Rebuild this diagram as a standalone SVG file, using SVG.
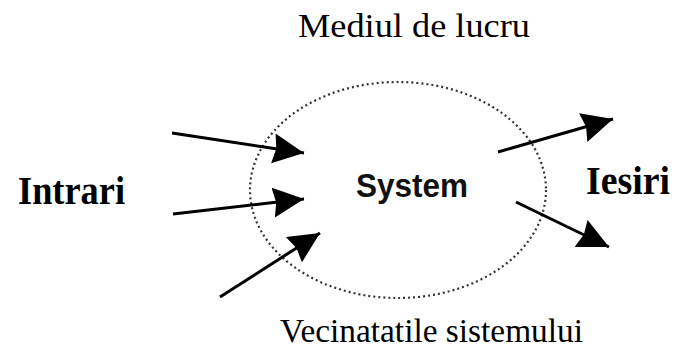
<svg xmlns="http://www.w3.org/2000/svg" width="685" height="348" viewBox="0 0 685 348">
  <style>
    .serif { font-family: "Liberation Serif", "Times New Roman", serif; fill: #000; }
    .sans { font-family: "Liberation Sans", Arial, sans-serif; fill: #111; }
    .edge { stroke: #000; stroke-width: 3; fill: none; marker-end: url(#head); }
  </style>
  <defs>
    <marker id="head" markerUnits="userSpaceOnUse" markerWidth="34" markerHeight="32" refX="31" refY="15" orient="auto">
      <path d="M0,0 L31,15 L0,30 L3,15 Z" fill="#000"/>
    </marker>
  </defs>
  <rect width="685" height="348" fill="#fff"/>

  <!-- environment label -->
  <text class="serif" x="298" y="37" font-size="33" textLength="232" lengthAdjust="spacingAndGlyphs">Mediul de lucru</text>

  <!-- system boundary -->
  <g id="system">
    <ellipse cx="398" cy="190" rx="148" ry="108" fill="none" stroke="#333" stroke-width="2.2" stroke-dasharray="2 3"/>
    <text class="sans" x="356" y="197" font-size="33" font-weight="bold" textLength="112" lengthAdjust="spacingAndGlyphs">System</text>
  </g>

  <g id="inputs">
    <text class="serif" x="18" y="204" font-size="39" font-weight="bold" textLength="107" lengthAdjust="spacingAndGlyphs">Intrari</text>
  </g>

  <g id="outputs">
    <text class="serif" x="586" y="194" font-size="39" font-weight="bold" textLength="84" lengthAdjust="spacingAndGlyphs">Iesiri</text>
  </g>

  <g id="neighbourhood">
    <text class="serif" x="280" y="342" font-size="34" textLength="303" lengthAdjust="spacingAndGlyphs">Vecinatatile sistemului</text>
  </g>

  <!-- flows in and out of the system -->
  <g id="connectors">
    <line class="edge" x1="172" y1="133" x2="304" y2="153"/>
    <line class="edge" x1="173" y1="214" x2="304" y2="199"/>
    <line class="edge" x1="220" y1="297" x2="320" y2="233"/>
    <line class="edge" x1="498" y1="152" x2="613" y2="119"/>
    <line class="edge" x1="516" y1="202" x2="609" y2="247"/>
  </g>
</svg>
